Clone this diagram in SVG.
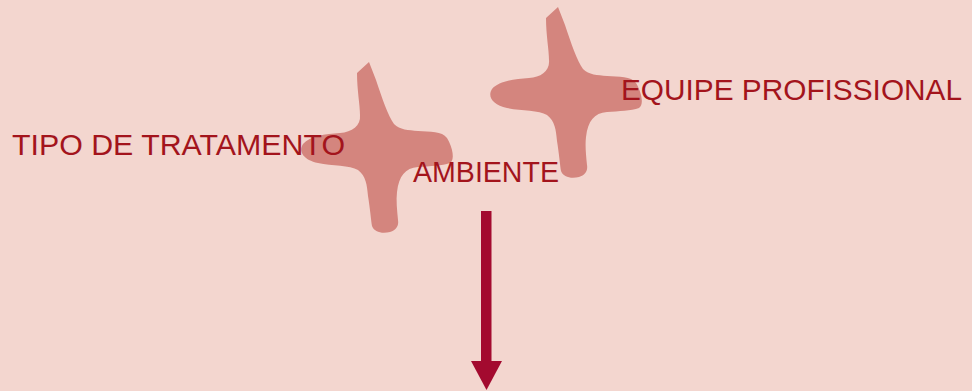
<svg xmlns="http://www.w3.org/2000/svg" width="972" height="391" viewBox="0 0 972 391">
  <style>
    .lbl { font-family: "Liberation Sans", Arial, sans-serif; font-size: 30px; fill: #a3141c; }
    .star { fill: #d4857e; }
  </style>
  <defs>
    <path id="cross" d="M 369 62 L 357 73 C 357 90 360 105 360 115 C 361 126 352 132 340 133 C 325 134 310 136 303 144 C 298 152 304 160 318 163 C 332 166 350 165 358 170 C 366 176 367 185 368 196 C 370 208 371 220 372 226 C 374 232 382 234 390 232 C 396 230 399 226 398 220 C 397 210 396 200 397 192 C 399 176 405 168 418 167 C 430 166 442 166 450 163 C 455 160 453 148 447 138 C 442 131 430 132 418 131 C 408 130 400 130 394 124 C 388 116 382 98 376 80 Z"/>
  </defs>
  <rect width="972" height="391" fill="#f3d6cf"/>
  <g id="shape1"><use href="#cross" class="star"/></g>
  <g id="shape2"><use href="#cross" class="star" transform="translate(189,-55)"/></g>
  <g id="node-tipo"><text class="lbl" x="12" y="155" textLength="333" lengthAdjust="spacingAndGlyphs">TIPO DE TRATAMENTO</text></g>
  <g id="node-ambiente"><text class="lbl" x="413" y="182" textLength="146" lengthAdjust="spacingAndGlyphs">AMBIENTE</text></g>
  <g id="node-equipe"><text class="lbl" x="621" y="100" textLength="341" lengthAdjust="spacingAndGlyphs">EQUIPE PROFISSIONAL</text></g>
  <g id="connectors">
    <rect x="481" y="211" width="10.5" height="151" fill="#a30a2f"/>
    <polygon points="471,361 502,361 486.5,390" fill="#a30a2f"/>
  </g>
</svg>
